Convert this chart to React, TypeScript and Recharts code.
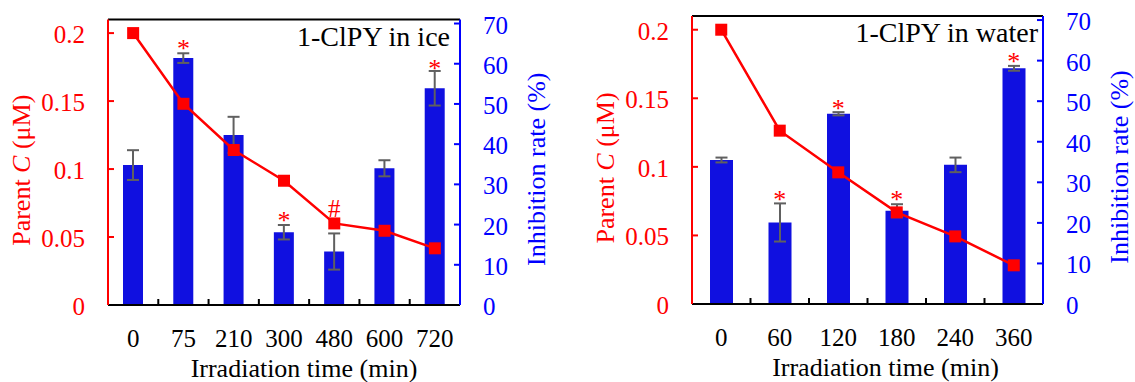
import React from 'react';
import { ComposedChart, Bar, Line, XAxis, YAxis, ErrorBar, Label, ReferenceLine } from 'recharts';

// ---------- data ----------
const iceTimes = ['0', '75', '210', '300', '480', '600', '720'];
const iceParent = [0.2, 0.148, 0.114, 0.0914, 0.06, 0.0546, 0.0417];
const iceInhibition = [34.8, 61.4, 42.3, 18.1, 13.3, 34.0, 53.9];
const iceError = [3.7, 1.2, 4.5, 1.8, 4.5, 2.0, 4.3];
const iceMarks = ['', '*', '', '*', '#', '', '*'];
const iceMarkPos = [null, 61.6, null, 18.8, 22.0, null, 56.7];

const waterTimes = ['0', '60', '120', '180', '240', '360'];
const waterParent = [0.2, 0.1264, 0.096, 0.0668, 0.0493, 0.0282];
const waterInhibition = [35.5, 20.1, 46.9, 23.0, 34.3, 58.1];
const waterError = [0.6, 4.7, 0.4, 1.6, 1.8, 0.6];
const waterMarks = ['', '*', '*', '*', '', '*'];
const waterMarkPos = [null, 23.6, 46.2, 23.6, null, 57.7];

const parentTicks = [0, 0.05, 0.1, 0.15, 0.2];
const inhibitionTicks = [0, 10, 20, 30, 40, 50, 60, 70];
const parentMax = 0.21;
const inhibitionMax = 71;

const FONT = '"Liberation Serif", "Times New Roman", Times, serif';
const RED = '#ff0000';
const BLUE = '#0000ff';
const BAR = '#1010e0';

type Cfg = {
  left: number;
  width: number;
  top: number;
  leftW: number;
  rightW: number;
  xH: number;
  barSize: number;
  title: string;
  titleDx: number;
  xTitleDx: number;
  times: string[];
  parent: number[];
  inh: number[];
  err: number[];
  marks: string[];
  markPos: (number | null)[];
};

const panels: Cfg[] = [
  {
    left: 0, width: 600, top: 19.5, leftW: 108, rightW: 140, xH: 77, barSize: 20,
    title: '1-ClPY in ice', titleDx: 10, xTitleDx: 20,
    times: iceTimes, parent: iceParent, inh: iceInhibition, err: iceError, marks: iceMarks, markPos: iceMarkPos,
  },
  {
    left: 580, width: 555, top: 16, leftW: 112, rightW: 92, xH: 78, barSize: 23,
    title: '1-ClPY in water', titleDx: 5, xTitleDx: 18,
    times: waterTimes, parent: waterParent, inh: waterInhibition, err: waterError, marks: waterMarks, markPos: waterMarkPos,
  },
];

function Panel({ cfg }: { cfg: Cfg }) {
  const data = cfg.times.map((t, i) => ({
    t,
    c: cfg.parent[i],
    inh: cfg.inh[i],
    err: cfg.err[i],
    mark: cfg.marks[i],
    markPos: cfg.markPos[i],
  }));
  const n = data.length;
  const plotW = cfg.width - cfg.leftW - cfg.rightW;
  const halfBand = plotW / n / 2;

  const XTick = (p: any) => {
    const { x, y, payload, index } = p;
    return (
      <g>
        {index < n - 1 && (
          <line x1={x + halfBand} x2={x + halfBand} y1={y} y2={y - 6} stroke="#000" strokeWidth={2} />
        )}
        <text x={x} y={y + 42} textAnchor="middle" fontSize={25} fontFamily={FONT} fill="#000">
          {payload.value}
        </text>
      </g>
    );
  };

  const LeftTick = (p: any) => {
    const { x, y, payload } = p;
    return (
      <g>
        {payload.value !== 0 && <line x1={x} x2={x + 6} y1={y} y2={y} stroke={RED} strokeWidth={2} />}
        <text x={x - 23} y={y + 10} textAnchor="end" fontSize={25} fontFamily={FONT} fill={RED}>
          {String(payload.value)}
        </text>
      </g>
    );
  };

  const RightTick = (p: any) => {
    const { x, y, payload } = p;
    return (
      <g>
        {payload.value !== 0 && <line x1={x - 6} x2={x} y1={y} y2={y} stroke={BLUE} strokeWidth={2} />}
        <text x={x + 23} y={y + 10} textAnchor="start" fontSize={25} fontFamily={FONT} fill={BLUE}>
          {String(payload.value)}
        </text>
      </g>
    );
  };

  const LeftTitle = (p: any) => {
    const vb = p.viewBox;
    const px = vb.x + vb.width - 78;
    const py = vb.y + vb.height / 2 + 8;
    return (
      <text x={px} y={py} transform={`rotate(-90, ${px}, ${py})`} textAnchor="middle" fontSize={26} fontFamily={FONT} fill={RED}>
        <tspan>Parent </tspan>
        <tspan fontStyle="italic">C</tspan>
        <tspan> (μM)</tspan>
      </text>
    );
  };

  const RightTitle = (p: any) => {
    const vb = p.viewBox;
    const px = vb.x + 85;
    const py = vb.y + vb.height / 2 + 7;
    return (
      <text x={px} y={py} transform={`rotate(-90, ${px}, ${py})`} textAnchor="middle" fontSize={26} fontFamily={FONT} fill={BLUE}>
        Inhibition rate (%)
      </text>
    );
  };

  const XTitle = (p: any) => {
    const vb = p.viewBox;
    return (
      <text x={vb.x + vb.width / 2 + cfg.xTitleDx} y={vb.y + 71.5} textAnchor="middle" fontSize={26} fontFamily={FONT} fill="#000">
        Irradiation time (min)
      </text>
    );
  };

  const TopTitle = (p: any) => {
    const vb = p.viewBox;
    return (
      <text x={vb.x + vb.width - cfg.titleDx} y={vb.y + 26} textAnchor="end" fontSize={28} fontFamily={FONT} fill="#000">
        {cfg.title}
      </text>
    );
  };

  const SquareDot = (p: any) => {
    if (p.cx == null || p.cy == null) return <g key={p.key} />;
    return <rect key={p.key} x={p.cx - 6} y={p.cy - 6} width={12} height={12} fill={RED} />;
  };

  const MarkDot = (p: any) => {
    if (p.cx == null || p.cy == null || !p.payload || !p.payload.mark) return <g key={p.key} />;
    return (
      <text key={p.key} x={p.cx} y={p.cy} textAnchor="middle" fontSize={p.payload.mark === '*' ? 26 : 25} fontFamily={FONT} fill={RED}>
        {p.payload.mark}
      </text>
    );
  };

  return (
    <div style={{ position: 'absolute', left: cfg.left, top: 0, width: cfg.width, height: 382 }}>
      <ComposedChart
        width={cfg.width}
        height={382}
        data={data}
        margin={{ top: cfg.top, right: 0, bottom: 0, left: 0 }}
        barCategoryGap={0}
      >
        <XAxis
          dataKey="t"
          height={cfg.xH}
          interval={0}
          tick={XTick}
          tickLine={false}
          tickSize={0}
          tickMargin={0}
          axisLine={{ stroke: '#000', strokeWidth: 2 }}
        >
          <Label content={XTitle} />
        </XAxis>
        <YAxis
          yAxisId="left"
          orientation="left"
          width={cfg.leftW}
          domain={[0, parentMax]}
          ticks={parentTicks}
          interval={0}
          tick={LeftTick}
          tickLine={false}
          tickSize={0}
          tickMargin={0}
          axisLine={{ stroke: RED, strokeWidth: 2 }}
          allowDataOverflow
        >
          <Label content={LeftTitle} />
        </YAxis>
        <YAxis
          yAxisId="right"
          orientation="right"
          width={cfg.rightW}
          domain={[0, inhibitionMax]}
          ticks={inhibitionTicks}
          interval={0}
          tick={RightTick}
          tickLine={false}
          tickSize={0}
          tickMargin={0}
          axisLine={{ stroke: BLUE, strokeWidth: 2 }}
          allowDataOverflow
        >
          <Label content={RightTitle} />
        </YAxis>
        <Bar yAxisId="right" dataKey="inh" fill={BAR} barSize={cfg.barSize} isAnimationActive={false}>
          <ErrorBar dataKey="err" width={6} stroke="#606060" strokeWidth={2} direction="y" />
        </Bar>
        <Line
          yAxisId="left"
          dataKey="c"
          stroke={RED}
          strokeWidth={2.5}
          dot={SquareDot}
          activeDot={false}
          isAnimationActive={false}
        />
        <Line
          yAxisId="right"
          dataKey="markPos"
          stroke="none"
          dot={MarkDot}
          activeDot={false}
          isAnimationActive={false}
        />
        <ReferenceLine
          yAxisId="left"
          y={parentMax}
          stroke="#000"
          strokeWidth={2}
          ifOverflow="visible"
          label={<Label content={TopTitle} />}
        />
      </ComposedChart>
    </div>
  );
}

export default function App() {
  return (
    <div style={{ position: 'absolute', left: 0, top: 0, width: 1135, height: 382, background: '#fff' }}>
      {panels.map((cfg, i) => (
        <Panel key={i} cfg={cfg} />
      ))}
    </div>
  );
}
